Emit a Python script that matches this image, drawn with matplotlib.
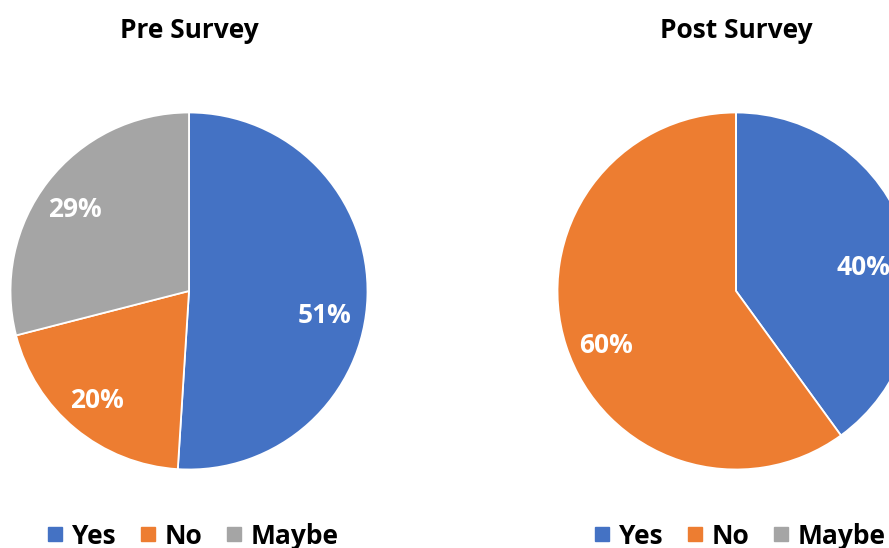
import matplotlib.pyplot as plt
from matplotlib.lines import Line2D

plt.rcParams["font.family"] = ["Open Sans", "DejaVu Sans"]

# ---------- data ----------
CATEGORIES = ["Yes", "No", "Maybe"]
PRE_VALUES = [51, 20, 29]
POST_VALUES = [40, 60, 0]
TITLES = ["Pre Survey", "Post Survey"]

COLORS = ["#4472C4", "#ED7D31", "#A5A5A5"]

# ---------- layout (pixels) ----------
W, H = 889, 548
R = 178.5
CENTERS = [(189, 291), (736, 291)]
# label placement in pie units (Excel "best fit" style), per slice
LABEL_POS = [
    [(0.762, -0.140), (-0.515, -0.616), (-0.639, 0.459)],
    [(0.715, 0.129), (-0.728, -0.303), None],
]


def pct_label(p):
    return f"{p:.0f}%" if p > 0.5 else ""


fig = plt.figure(figsize=(W / 100, H / 100), dpi=100)

for (cx, cy), values, title, lpos in zip(CENTERS, [PRE_VALUES, POST_VALUES], TITLES, LABEL_POS):
    ax = fig.add_axes([(cx - R) / W, (H - cy - R) / H, 2 * R / W, 2 * R / H])
    wedges, _, autotexts = ax.pie(
        values,
        colors=COLORS,
        startangle=90,
        counterclock=False,
        autopct=pct_label,
        pctdistance=0.78,
        radius=1.0,
        wedgeprops=dict(edgecolor="white", linewidth=1.3),
        textprops=dict(color="white", fontsize=19, fontweight="bold"),
    )
    for t, pos in zip(autotexts, lpos):
        if pos is not None:
            t.set_position(pos)
            t.set_clip_on(False)
    ax.set_xlim(-1, 1)
    ax.set_ylim(-1, 1)
    ax.set_aspect("auto")
    ax.axis("off")

    fig.text(cx / W, 1 - 30 / H, title, ha="center", va="center",
             fontsize=19, fontweight="bold", color="black")

    handles = [Line2D([], [], marker="s", ls="", color=c, markersize=10.5) for c in COLORS]
    leg = fig.legend(
        handles, CATEGORIES,
        loc="center", bbox_to_anchor=((cx + 4.5) / W, 1 - 536 / H),
        ncol=3, frameon=False, fontsize=19,
        handlelength=0.55, handletextpad=0.35, columnspacing=0.95,
        borderaxespad=0,
    )
    for t in leg.get_texts():
        t.set_fontweight("bold")

fig.savefig("out.png", dpi=100)
